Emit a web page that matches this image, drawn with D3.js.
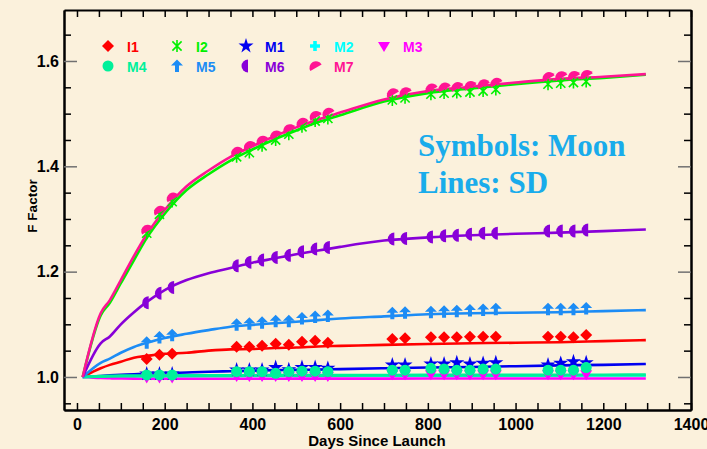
<!DOCTYPE html>
<html>
<head>
<meta charset="utf-8">
<script src="https://cdn.jsdelivr.net/npm/d3@7"></script>
<style>
  html, body { margin:0; padding:0; background:#fbf1dc; }
  svg { display:block; }
  text { font-family:"Liberation Sans", Arial, sans-serif; font-weight:bold; }
</style>
</head>
<body>
<svg id="chart" width="707" height="449"></svg>
<script>
// days of the SD line vertices and of the Moon observations
var lineDays = [13, 54, 75, 100, 130, 160, 200, 250, 300, 350, 400, 450, 500, 550, 600, 700, 800, 900, 1000, 1100, 1200, 1297]
var moonDays = [159, 188, 217, 364, 393, 422, 453, 483, 513, 543, 572, 719, 748, 807, 837, 866, 896, 926, 955, 1074, 1103, 1132, 1161]

var seriesNames = ["I1", "I2", "M1", "M2", "M3", "M4", "M5", "M6", "M7"]
var seriesColors = ["#ff0000", "#00f000", "#0000f0", "#00ffff", "#ff00ff", "#00f09a", "#1c8cf5", "#8800d8", "#ff1493"]

// Lines: SD
var sdI1 = [1.0, 1.0165, 1.023, 1.029, 1.0367, 1.040, 1.044, 1.046, 1.050, 1.0525, 1.053, 1.055, 1.056, 1.058, 1.059, 1.061, 1.0627, 1.064, 1.065, 1.066, 1.068, 1.070]
var sdI2 = [1.0, 1.117, 1.141, 1.178, 1.222, 1.265, 1.310, 1.355, 1.385, 1.411, 1.432, 1.451, 1.468, 1.484, 1.497, 1.523, 1.539, 1.548, 1.556, 1.563, 1.568, 1.574]
var sdM1 = [1.0, 1.002, 1.003, 1.004, 1.005, 1.006, 1.007, 1.0085, 1.010, 1.011, 1.012, 1.013, 1.0135, 1.014, 1.015, 1.0165, 1.018, 1.019, 1.0205, 1.022, 1.023, 1.0247]
var sdM2 = [1.0, 1.0005, 1.001, 1.0012, 1.0014, 1.0015, 1.0016, 1.0017, 1.0018, 1.0019, 1.002, 1.002, 1.0021, 1.0021, 1.0022, 1.0023, 1.0024, 1.0025, 1.0026, 1.0027, 1.0028, 1.003]
var sdM3 = [1.0, 0.998, 0.9975, 0.997, 0.9968, 0.9965, 0.9965, 0.9965, 0.9966, 0.9966, 0.9967, 0.9967, 0.9968, 0.9968, 0.9969, 0.9969, 0.997, 0.997, 0.997, 0.9971, 0.9971, 0.9972]
var sdM4 = [1.0, 1.001, 1.0015, 1.002, 1.002, 1.0022, 1.0024, 1.0025, 1.0026, 1.0027, 1.0028, 1.003, 1.003, 1.0031, 1.0032, 1.0033, 1.0034, 1.0035, 1.0036, 1.0037, 1.0038, 1.004]
var sdM5 = [1.0, 1.027, 1.035, 1.046, 1.057, 1.065, 1.074, 1.082, 1.089, 1.0955, 1.099, 1.102, 1.105, 1.108, 1.111, 1.115, 1.119, 1.121, 1.122, 1.123, 1.125, 1.127]
var sdM6 = [1.0, 1.064, 1.077, 1.100, 1.123, 1.143, 1.165, 1.184, 1.197, 1.207, 1.217, 1.225, 1.233, 1.240, 1.247, 1.259, 1.265, 1.269, 1.272, 1.274, 1.277, 1.280]
var sdM7 = [1.0, 1.121, 1.146, 1.184, 1.230, 1.272, 1.317, 1.362, 1.392, 1.418, 1.438, 1.457, 1.474, 1.489, 1.502, 1.527, 1.543, 1.551, 1.559, 1.566, 1.570, 1.575]

// Symbols: Moon
var moonI1 = [1.034, 1.042, 1.044, 1.0575, 1.0575, 1.0595, 1.063, 1.061, 1.067, 1.069, 1.065, 1.072, 1.0735, 1.0754, 1.0754, 1.0754, 1.0766, 1.0766, 1.0766, 1.0766, 1.0766, 1.0754, 1.0797]
var moonI2 = [1.273, 1.309, 1.333, 1.418, 1.426, 1.439, 1.450, 1.461, 1.475, 1.486, 1.491, 1.526, 1.530, 1.537, 1.539, 1.540, 1.541, 1.543, 1.546, 1.556, 1.558, 1.559, 1.561]
var moonM1 = [1.006, 1.006, 1.006, 1.0133, 1.0133, 1.0133, 1.018, 1.014, 1.018, 1.018, 1.0165, 1.0228, 1.0228, 1.0247, 1.0247, 1.027, 1.0247, 1.026, 1.027, 1.0228, 1.026, 1.029, 1.027]
var moonM2 = [1.0038, 1.0038, 1.0038, 1.010, 1.010, 1.010, 1.007, 1.010, 1.011, 1.011, 1.010, 1.013, 1.013, 1.0165, 1.015, 1.013, 1.013, 1.015, 1.015, 1.013, 1.013, 1.013, 1.018]
var moonM3 = [0.999, 0.999, 0.999, 1.002, 1.002, 1.002, 1.002, 1.002, 1.002, 1.002, 1.002, 1.005, 1.005, 1.005, 1.005, 1.005, 1.005, 1.005, 1.005, 1.005, 1.005, 1.005, 1.005]
var moonM4 = [1.0038, 1.0038, 1.0038, 1.010, 1.010, 1.010, 1.007, 1.010, 1.011, 1.011, 1.010, 1.013, 1.013, 1.0165, 1.015, 1.013, 1.013, 1.015, 1.015, 1.013, 1.013, 1.013, 1.018]
var moonM5 = [1.065, 1.075, 1.079, 1.099, 1.101, 1.103, 1.106, 1.106, 1.111, 1.114, 1.116, 1.121, 1.122, 1.123, 1.124, 1.125, 1.126, 1.127, 1.1285, 1.1285, 1.1285, 1.1285, 1.130]
var moonM6 = [1.141, 1.159, 1.170, 1.211, 1.218, 1.222, 1.227, 1.231, 1.238, 1.243, 1.246, 1.262, 1.263, 1.266, 1.268, 1.269, 1.271, 1.273, 1.273, 1.277, 1.277, 1.277, 1.279]
var moonM7 = [1.280, 1.316, 1.341, 1.428, 1.439, 1.449, 1.459, 1.471, 1.483, 1.496, 1.502, 1.539, 1.541, 1.548, 1.550, 1.551, 1.553, 1.556, 1.559, 1.570, 1.5715, 1.572, 1.574]

var sdValues = [sdI1, sdI2, sdM1, sdM2, sdM3, sdM4, sdM5, sdM6, sdM7]
var moonValues = [moonI1, moonI2, moonM1, moonM2, moonM3, moonM4, moonM5, moonM6, moonM7]

var xMajor = d3.range(0, 1401, 200)
var xMinor = d3.range(0, 1401, 50).filter(function(d){ return d % 200 != 0 })
var yMajor = [1.0, 1.2, 1.4, 1.6]
var yMinor = [0.95, 1.05, 1.1, 1.15, 1.25, 1.3, 1.35, 1.45, 1.5, 1.55, 1.65]

var series = seriesNames.map(function(name, i){
  return {
    name: name,
    color: seriesColors[i],
    line: lineDays.map(function(d, j){ return [d, sdValues[i][j]] }),
    moon: moonDays.map(function(d, j){ return [d, moonValues[i][j]] })
  }
})

var svg = d3.select("#chart")
var plotLeft = 64, plotRight = 691, plotTop = 10, plotBottom = 410

var x = d3.scaleLinear().domain([-29.6, 1400]).range([plotLeft, plotRight])
var y = d3.scaleLinear().domain([0.9373, 1.6968]).range([plotBottom, plotTop])

// symbol shapes, one per series
var symbolShape = {
  I1: { d: "M0,-6L6,0L0,6L-6,0Z" },
  I2: { d: "M0,-6V6M-4.6,-4.6L4.6,4.6M-4.6,4.6L4.6,-4.6", stroke: true },
  M1: { d: d3.symbol(d3.symbolStar, 70)() },
  M2: { d: "M-1.8,-5H1.8V-1.8H5V1.8H1.8V5H-1.8V1.8H-5V-1.8H-1.8Z" },
  M3: { d: "M-6,-4L6,-4L0,6Z" },
  M4: { d: d3.symbol(d3.symbolCircle, 95)() },
  M5: { d: "M0,-6.5L6,-0.5H2V6H-2V-0.5H-6Z" },
  M6: { d: "M2,-6.5A6.5,6.5 0 0 0 2,6.5Z" },
  M7: { d: "M-6.5,2A6.5,6.5 0 0 1 6.5,2Z", rotate: -30 }
}

var drawSymbol = function(g, s, px, py){
  var sh = symbolShape[s.name]
  var p = g.append("path")
    .attr("d", sh.d)
    .attr("transform", "translate(" + px + "," + py + ")" + (sh.rotate ? " rotate(" + sh.rotate + ")" : ""))
  if (sh.stroke) {
    p.attr("fill", "none").attr("stroke", s.color).attr("stroke-width", 1.6)
  } else {
    p.attr("fill", s.color)
  }
}

// axes, ticks pointing inward
var styleAxis = function(g, tickColor){
  g.select(".domain").attr("stroke", "#000").attr("stroke-width", 2)
  g.selectAll(".tick line").attr("stroke", tickColor).attr("stroke-width", 1.5)
  g.selectAll(".tick text").attr("fill", "#000")
    .style("font-family", "'Liberation Sans', Arial, sans-serif")
    .style("font-weight", "bold").style("font-size", "16px")
}

svg.append("g").attr("transform", "translate(0," + plotBottom + ")")
  .call(d3.axisBottom(x).tickValues(xMinor).tickSize(-7).tickSizeOuter(0).tickFormat(""))
  .call(styleAxis, "#000")
svg.append("g").attr("transform", "translate(0," + plotBottom + ")")
  .call(d3.axisBottom(x).tickValues(xMajor).tickSize(-7).tickSizeOuter(0).tickPadding(8.5).tickFormat(d3.format("d")))
  .call(styleAxis, "#000")
svg.append("g").attr("transform", "translate(0," + plotTop + ")")
  .call(d3.axisTop(x).tickValues(xMinor.concat(xMajor)).tickSize(-7).tickSizeOuter(0).tickFormat(""))
  .call(styleAxis, "#000")

svg.append("g").attr("transform", "translate(" + plotLeft + ",0)")
  .call(d3.axisLeft(y).tickValues(yMinor).tickSize(-7).tickSizeOuter(0).tickFormat(""))
  .call(styleAxis, "#000")
svg.append("g").attr("transform", "translate(" + plotLeft + ",0)")
  .call(d3.axisLeft(y).tickValues(yMajor).tickSize(-13).tickSizeOuter(0).tickPadding(5).tickFormat(d3.format(".1f")))
  .call(styleAxis, "#707070")
svg.append("g").attr("transform", "translate(" + plotRight + ",0)")
  .call(d3.axisRight(y).tickValues(yMinor).tickSize(-7).tickSizeOuter(0).tickFormat(""))
  .call(styleAxis, "#000")
svg.append("g").attr("transform", "translate(" + plotRight + ",0)")
  .call(d3.axisRight(y).tickValues(yMajor).tickSize(-13).tickSizeOuter(0).tickFormat(""))
  .call(styleAxis, "#707070")

// axis titles
svg.append("text")
  .attr("x", 377).attr("y", 446)
  .attr("text-anchor", "middle")
  .style("font-size", "15px")
  .text("Days Since Launch")

svg.append("text")
  .attr("transform", "translate(37,206) rotate(-90)")
  .attr("text-anchor", "middle")
  .style("font-size", "13.5px")
  .text("F Factor")

// SD lines
var line = d3.line()
  .x(function(d){ return x(d[0]) })
  .y(function(d){ return y(d[1]) })
  .curve(d3.curveMonotoneX)

var plot = svg.append("g")
series.forEach(function(s){
  plot.append("path")
    .attr("d", line(s.line))
    .attr("fill", "none")
    .attr("stroke", s.color)
    .attr("stroke-width", s.name == "M4" ? 3.2 : 2.6)
    .attr("stroke-linejoin", "round")
})

// Moon symbols
series.forEach(function(s){
  var g = plot.append("g")
  s.moon.forEach(function(d){
    drawSymbol(g, s, x(d[0]), y(d[1]))
  })
})

// legend
var legend = svg.append("g")
series.forEach(function(s, i){
  var lx = 108 + 69 * (i % 5)
  var ly = i < 5 ? 46 : 66
  drawSymbol(legend, s, lx, ly)
  legend.append("text")
    .attr("x", lx + 19).attr("y", ly + 5.5)
    .attr("fill", s.color)
    .style("font-size", "14px")
    .text(s.name)
})

// note
var note = svg.append("g")
note.append("text").attr("x", 418).attr("y", 156)
  .attr("fill", "#19aceb").style("font-size", "31px")
  .style("font-family", "'Liberation Serif', 'Times New Roman', serif")
  .text("Symbols: Moon")
note.append("text").attr("x", 418).attr("y", 193)
  .attr("fill", "#19aceb").style("font-size", "31px")
  .style("font-family", "'Liberation Serif', 'Times New Roman', serif")
  .text("Lines: SD")
</script>
</body>
</html>
